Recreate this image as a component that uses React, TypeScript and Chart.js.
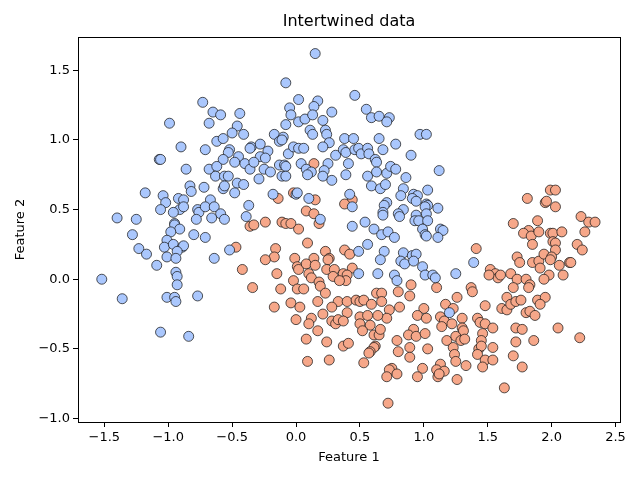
import React, { useEffect, useRef } from "react";
import { Chart, registerables } from "chart.js";

Chart.register(...registerables);

const chartTitle = "Intertwined data";
const xAxisLabel = "Feature 1";
const yAxisLabel = "Feature 2";

const xTickValues = [-1.5, -1.0, -0.5, 0.0, 0.5, 1.0, 1.5, 2.0, 2.5];
const xTickLabels = ["\u22121.5", "\u22121.0", "\u22120.5", "0.0", "0.5", "1.0", "1.5", "2.0", "2.5"];
const yTickValues = [-1.0, -0.5, 0.0, 0.5, 1.0, 1.5];
const yTickLabels = ["\u22121.0", "\u22120.5", "0.0", "0.5", "1.0", "1.5"];

const xLimits = [-1.706, 2.535];
const yLimits = [-1.025, 1.739];

// class 0 (blue upper moon)
const bluePoints: [number, number][] = [
  [-0.99, 1.12], [-0.90, 0.95], [-1.07, 0.86], [-1.06, 0.86],
  [0.15, 1.62], [-0.08, 1.41], [-0.73, 1.27], [0.02, 1.29], [0.17, 1.28], [-0.65, 1.20], [-0.59, 1.18], [-0.44, 1.19],
  [-0.05, 1.23], [0.14, 1.24], [0.28, 1.20], [-0.68, 1.12], [-0.04, 1.18], [-0.08, 1.11], [0.02, 1.13], [0.07, 1.15],
  [0.13, 1.18], [0.21, 1.14], [-0.46, 1.10], [-0.50, 1.05], [-0.41, 1.04], [-0.62, 0.99], [-0.57, 1.01], [-0.17, 1.04],
  [-0.13, 0.99], [-0.10, 1.02], [-0.11, 1.00], [0.11, 1.07], [0.13, 1.04], [0.23, 1.07], [0.24, 1.04], [0.26, 0.98],
  [-0.71, 0.93], [-0.52, 0.93], [-0.53, 0.91], [-0.35, 0.95], [-0.36, 0.94], [-0.28, 0.97], [-0.22, 0.92], [-0.28, 0.88],
  [-0.24, 0.87], [-0.06, 0.90], [-0.02, 0.95], [0.02, 0.94], [0.06, 0.94], [0.21, 0.95], [0.31, 0.89], [-0.57, 0.86],
  [-0.45, 0.88],
  [0.46, 1.32], [0.55, 1.22], [0.59, 1.16], [0.65, 1.17], [0.73, 1.16], [0.71, 1.13], [0.97, 1.04], [1.02, 1.04],
  [0.38, 1.01], [0.45, 1.01], [0.65, 1.01], [0.78, 0.97], [0.37, 0.93], [0.39, 0.91], [0.46, 0.93], [0.49, 0.94],
  [0.51, 0.90], [0.56, 0.94], [0.57, 0.90], [0.68, 0.93], [0.90, 0.89], [0.62, 0.86],
  [-0.86, 0.79], [-0.83, 0.67], [-0.82, 0.63], [-1.18, 0.62], [-1.04, 0.60], [-1.02, 0.55], [-1.06, 0.50], [-0.92, 0.58],
  [-0.88, 0.57], [-0.91, 0.50], [-0.88, 0.52], [-0.96, 0.48], [-1.40, 0.44], [-1.25, 0.43], [-0.77, 0.50], [-0.76, 0.48],
  [-0.78, 0.43], [-0.95, 0.40], [-0.95, 0.39], [-0.91, 0.36], [-1.28, 0.32], [-0.80, 0.32], [-0.98, 0.34], [-1.01, 0.28],
  [-1.03, 0.23], [-0.96, 0.25], [-0.89, 0.23], [-0.88, 0.24], [-0.93, 0.20], [-1.23, 0.22], [-1.17, 0.18], [-1.01, 0.16],
  [-0.94, 0.15], [-1.09, 0.10], [-1.52, 0.00], [-0.94, 0.05], [-0.93, 0.02], [-0.93, -0.04],
  [-1.36, -0.14], [-1.01, -0.13], [-0.95, -0.13], [-0.94, -0.16], [-0.77, -0.12], [-1.06, -0.38], [-0.84, -0.41],
  [-0.68, 0.79], [-0.62, 0.81], [-0.48, 0.84], [-0.40, 0.83], [-0.36, 0.79], [-0.33, 0.84], [-0.25, 0.79], [-0.20, 0.77],
  [-0.13, 0.82], [-0.09, 0.82], [-0.08, 0.81], [0.04, 0.83], [0.08, 0.79], [0.12, 0.77], [0.25, 0.83], [0.22, 0.78],
  [0.09, 0.75], [0.21, 0.74], [0.28, 0.71], [-0.63, 0.74], [-0.56, 0.74], [-0.53, 0.74], [-0.29, 0.72], [-0.11, 0.74],
  [-0.08, 0.74], [-0.72, 0.66], [-0.57, 0.65], [-0.56, 0.67], [-0.46, 0.69], [-0.48, 0.62], [-0.41, 0.68], [-0.18, 0.61],
  [0.00, 0.61], [0.01, 0.62], [0.10, 0.58], [-0.67, 0.57], [-0.71, 0.52], [-0.64, 0.52], [-0.59, 0.47], [-0.56, 0.43],
  [-0.66, 0.44], [-0.37, 0.53], [-0.39, 0.45], [0.19, 0.43], [-0.71, 0.30], [-0.52, 0.21], [-0.64, 0.15],
  [0.41, 0.83], [0.63, 0.84], [0.39, 0.75], [0.56, 0.74], [0.63, 0.77], [0.71, 0.76], [0.74, 0.81], [0.78, 0.79],
  [0.86, 0.73], [1.12, 0.78], [0.59, 0.67], [0.66, 0.65], [0.70, 0.68], [0.84, 0.65], [0.82, 0.60], [0.92, 0.61],
  [0.95, 0.60], [0.91, 0.58], [0.94, 0.56], [1.03, 0.64], [0.42, 0.61], [0.44, 0.52], [0.71, 0.55], [0.69, 0.53],
  [0.68, 0.48], [0.68, 0.46], [0.84, 0.50], [0.80, 0.47], [0.81, 0.45], [1.02, 0.54], [1.03, 0.53], [1.01, 0.52],
  [1.11, 0.51], [0.94, 0.46], [0.93, 0.42], [0.96, 0.42], [1.02, 0.47], [1.03, 0.42], [0.99, 0.36], [1.01, 0.32],
  [1.02, 0.31], [1.13, 0.36], [1.15, 0.35], [1.11, 0.30], [0.54, 0.41], [0.44, 0.38], [0.61, 0.36], [0.67, 0.32],
  [0.72, 0.34], [0.77, 0.30], [0.56, 0.25], [0.49, 0.20], [0.69, 0.20], [0.66, 0.14], [0.84, 0.19], [0.82, 0.13],
  [0.85, 0.11], [0.91, 0.17], [0.94, 0.18], [0.92, 0.13], [0.99, 0.09], [1.39, 0.12], [0.49, 0.04], [0.64, 0.04],
  [0.77, 0.03], [0.79, -0.01], [1.01, 0.03], [1.07, 0.03], [1.09, 0.01], [1.25, 0.04], [1.20, -0.24],
];

// class 1 (orange lower moon)
const orangePoints: [number, number][] = [
  [0.14, 0.83], [-0.02, 0.62], [-0.14, 0.58], [0.15, 0.57], [0.08, 0.49], [0.14, 0.47], [0.18, 0.40], [-0.24, 0.41],
  [-0.36, 0.38], [-0.33, 0.39], [-0.11, 0.41], [-0.08, 0.40], [-0.04, 0.40], [0.02, 0.36], [0.09, 0.26], [-0.47, 0.23],
  [-0.16, 0.22], [-0.17, 0.16], [-0.24, 0.14], [-0.01, 0.15], [0.23, 0.20], [0.14, 0.15], [0.26, 0.15], [0.25, 0.14],
  [-0.42, 0.07], [-0.15, 0.04], [0.01, 0.09], [0.02, 0.07], [0.08, 0.11], [0.15, 0.10], [0.10, 0.04], [0.12, 0.01],
  [0.24, 0.07], [0.30, 0.07], [0.29, 0.02], [-0.02, -0.01], [0.18, -0.02], [0.19, -0.05], [-0.34, -0.06], [-0.12, -0.07],
  [0.01, -0.07], [0.06, -0.07], [0.23, -0.10],
  [-0.17, -0.20], [-0.04, -0.17], [0.03, -0.20], [0.17, -0.16], [0.33, -0.16], [0.28, -0.20], [0.00, -0.29], [0.12, -0.28],
  [0.10, -0.32], [0.21, -0.25], [0.17, -0.37], [0.28, -0.30], [0.31, -0.32], [0.33, -0.29], [0.08, -0.43], [0.24, -0.45],
  [0.09, -0.59], [0.26, -0.58],
  [0.44, 0.57], [0.38, 0.54], [0.38, 0.21], [0.42, 0.18], [0.44, 0.08], [0.37, 0.04], [0.40, 0.03], [0.39, -0.01],
  [0.34, -0.01], [0.90, -0.04], [1.10, -0.06], [0.63, -0.10], [0.80, -0.09], [0.89, -0.12], [1.37, -0.06], [1.38, -0.09],
  [1.41, 0.22], [1.26, -0.13],
  [0.40, -0.16], [0.47, -0.15], [0.50, -0.16], [0.53, -0.15], [0.59, -0.18], [0.67, -0.10], [0.67, -0.16], [1.17, -0.18],
  [1.23, -0.21], [1.00, -0.21], [0.81, -0.20], [0.73, -0.22], [0.71, -0.28], [0.64, -0.26], [0.40, -0.24], [0.37, -0.30],
  [0.50, -0.27], [0.56, -0.26], [0.58, -0.33], [0.50, -0.32], [0.52, -0.37], [0.61, -0.40], [0.65, -0.40], [0.66, -0.36],
  [0.95, -0.26], [1.02, -0.28], [1.13, -0.27], [1.16, -0.30], [1.22, -0.32], [1.30, -0.28], [1.14, -0.34], [1.30, -0.35],
  [1.31, -0.37], [0.92, -0.36], [0.88, -0.40], [0.94, -0.41], [1.01, -0.39], [1.18, -0.44], [1.25, -0.41], [1.29, -0.44],
  [1.32, -0.43], [1.23, -0.49], [0.79, -0.44], [0.37, -0.48], [0.41, -0.46], [0.62, -0.48], [0.61, -0.49], [0.58, -0.52],
  [0.57, -0.53], [0.89, -0.49], [0.89, -0.56], [0.80, -0.52], [1.03, -0.50], [1.24, -0.54], [0.53, -0.60], [1.13, -0.61],
  [1.10, -0.65], [1.16, -0.66], [1.11, -0.70], [1.12, -0.68], [1.25, -0.59], [1.33, -0.62], [0.75, -0.64], [0.73, -0.65],
  [0.79, -0.68], [0.71, -0.70], [0.99, -0.64], [0.95, -0.70], [1.26, -0.72], [0.72, -0.89],
  [1.99, 0.64], [2.03, 0.64], [1.81, 0.58], [1.95, 0.55], [1.96, 0.56], [2.03, 0.52], [2.23, 0.45], [2.29, 0.41],
  [2.34, 0.41], [1.70, 0.40], [1.89, 0.42], [1.82, 0.35], [1.78, 0.33], [1.84, 0.31], [1.90, 0.34], [1.99, 0.33],
  [2.01, 0.33], [2.08, 0.34], [2.26, 0.34], [1.85, 0.25], [2.01, 0.27], [2.03, 0.26], [2.03, 0.21], [2.20, 0.25],
  [2.24, 0.21], [1.73, 0.16], [1.75, 0.12], [1.85, 0.12], [1.90, 0.13], [1.91, 0.08], [1.94, 0.18], [2.00, 0.16],
  [1.99, 0.14], [2.06, 0.10], [2.14, 0.12], [2.15, 0.12], [2.09, 0.03], [1.52, 0.07], [1.56, 0.04], [1.58, 0.01],
  [1.51, 0.03], [1.60, 0.03], [1.68, 0.04], [1.73, 0.00], [1.70, -0.06], [1.80, 0.00], [1.83, -0.04], [1.82, -0.06],
  [1.98, 0.03], [1.94, 0.00],
  [1.65, -0.13], [1.48, -0.19], [1.61, -0.21], [1.65, -0.22], [1.68, -0.18], [1.72, -0.16], [1.76, -0.15], [1.89, -0.15],
  [1.95, -0.13], [1.91, -0.18], [1.80, -0.24], [1.83, -0.23], [1.87, -0.26], [1.42, -0.28], [1.44, -0.31], [1.48, -0.32],
  [1.46, -0.39], [1.54, -0.35], [1.72, -0.35], [1.77, -0.36], [2.05, -0.35], [2.22, -0.42], [1.45, -0.44], [1.43, -0.50],
  [1.45, -0.48], [1.42, -0.54], [1.54, -0.49], [1.72, -0.45], [1.86, -0.44], [1.48, -0.58], [1.54, -0.58], [1.46, -0.63],
  [1.70, -0.55], [1.77, -0.63], [1.63, -0.78],
];

const FONT = "'DejaVu Sans', sans-serif";

const framePlugin = {
  id: "frameAndTitle",
  afterDraw(chart: any) {
    const { ctx, chartArea } = chart;
    ctx.save();
    ctx.strokeStyle = "#000";
    ctx.lineWidth = 1;
    ctx.strokeRect(
      Math.round(chartArea.left) + 0.5,
      Math.round(chartArea.top) + 0.5,
      Math.round(chartArea.right - chartArea.left),
      Math.round(chartArea.bottom - chartArea.top)
    );
    ctx.fillStyle = "#000";
    ctx.font = `16px ${FONT}`;
    ctx.textAlign = "center";
    ctx.textBaseline = "middle";
    ctx.fillText(chartTitle, (chartArea.left + chartArea.right) / 2, 22);
    ctx.restore();
  },
};

export default function App() {
  const canvasRef = useRef<HTMLCanvasElement | null>(null);

  useEffect(() => {
    const canvas = canvasRef.current;
    if (!canvas) return;
    const chart = new Chart(canvas, {
      type: "scatter",
      data: {
        datasets: [
          {
            data: bluePoints.map(([x, y]) => ({ x, y })),
            backgroundColor: "rgb(170,199,253)",
            borderColor: "rgba(20,20,20,0.9)",
            borderWidth: 0.8,
            pointRadius: 5,
            pointHoverRadius: 5,
          },
          {
            data: orangePoints.map(([x, y]) => ({ x, y })),
            backgroundColor: "rgb(246,167,137)",
            borderColor: "rgba(20,20,20,0.9)",
            borderWidth: 0.8,
            pointRadius: 5,
            pointHoverRadius: 5,
          },
        ],
      },
      options: {
        animation: false,
        responsive: false,
        devicePixelRatio: 1,
        events: [],
        layout: { padding: { top: 37, right: 20, left: 0, bottom: 0 } },
        plugins: {
          legend: { display: false },
          title: { display: false },
          tooltip: { enabled: false },
        },
        scales: {
          x: {
            type: "linear",
            min: xLimits[0],
            max: xLimits[1],
            afterBuildTicks: (scale: any) => {
              scale.ticks = xTickValues.map((v) => ({ value: v }));
            },
            afterFit: (scale: any) => {
              scale.height = 58;
            },
            ticks: {
              autoSkip: false,
              maxRotation: 0,
              color: "#000",
              padding: 3,
              font: { family: FONT, size: 13 },
              callback: (value: any) => {
                const i = xTickValues.findIndex((v) => Math.abs(v - Number(value)) < 1e-6);
                return i >= 0 ? xTickLabels[i] : "";
              },
            },
            grid: {
              drawOnChartArea: false,
              drawTicks: true,
              tickLength: 5,
              color: "#000",
            },
            border: { display: true, color: "#000" },
            title: {
              display: true,
              text: xAxisLabel,
              color: "#000",
              font: { family: FONT, size: 13 },
              padding: { top: 0, bottom: 15 },
            },
          },
          y: {
            type: "linear",
            min: yLimits[0],
            max: yLimits[1],
            afterBuildTicks: (scale: any) => {
              scale.ticks = yTickValues.map((v) => ({ value: v }));
            },
            afterFit: (scale: any) => {
              scale.width = 78;
            },
            ticks: {
              autoSkip: false,
              color: "#000",
              padding: 3,
              font: { family: FONT, size: 13 },
              callback: (value: any) => {
                const i = yTickValues.findIndex((v) => Math.abs(v - Number(value)) < 1e-6);
                return i >= 0 ? yTickLabels[i] : "";
              },
            },
            grid: {
              drawOnChartArea: false,
              drawTicks: true,
              tickLength: 5,
              color: "#000",
            },
            border: { display: true, color: "#000" },
            title: {
              display: true,
              text: yAxisLabel,
              color: "#000",
              font: { family: FONT, size: 13 },
              padding: { top: 13, bottom: 0 },
            },
          },
        },
      },
      plugins: [framePlugin],
    });
    return () => chart.destroy();
  }, []);

  return (
    <div style={{ position: "absolute", left: 0, top: 0, width: 640, height: 480, background: "#fff" }}>
      <canvas ref={canvasRef} width={640} height={480} style={{ width: 640, height: 480 }} />
    </div>
  );
}
